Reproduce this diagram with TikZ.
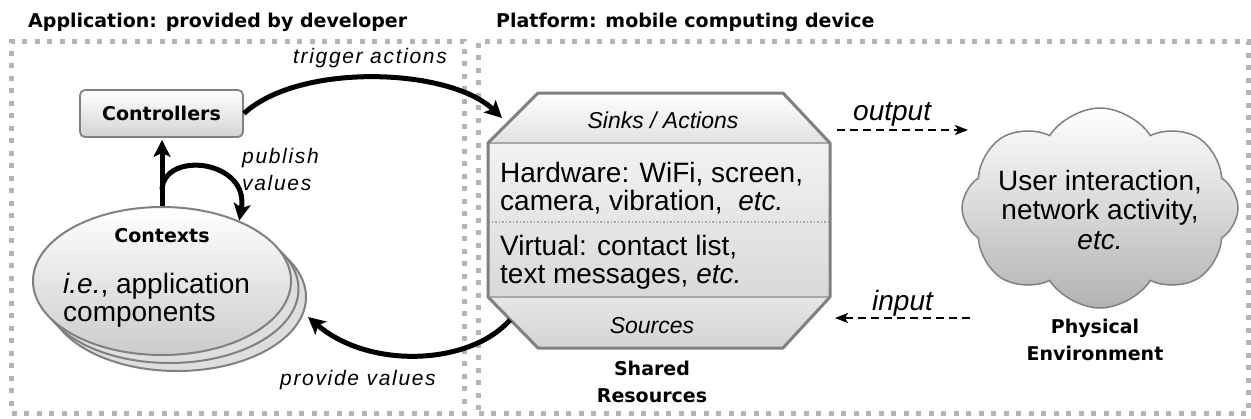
\documentclass[tikz,border=0pt]{standalone}
\usepackage{fontspec}
\setmainfont{Liberation Sans}
\newfontfamily\djv{DejaVu Sans}
\newfontfamily\spc[LetterSpace=8]{Liberation Sans}
\usetikzlibrary{arrows.meta,shapes.geometric,shapes.symbols,shadows,calc}
\definecolor{dotgray}{HTML}{B3B3B3}
\definecolor{edgegray}{HTML}{808080}
\definecolor{sepgray}{HTML}{A8A8A8}
\begin{document}
\begin{tikzpicture}[x=1pt,y=-1pt,
  frame/.style={draw=dotgray, line width=5pt, dash pattern=on 5pt off 7.5pt, inner sep=0pt},
  titletxt/.style={inner sep=0pt, font=\djv\bfseries\fontsize{19}{22}\selectfont},
  boldtxt/.style={inner sep=0pt, align=center, font=\djv\bfseries\fontsize{19}{27}\selectfont},
  bodytxt/.style={inner sep=0pt, font=\fontsize{28}{28}\selectfont},
  ittxt/.style={inner sep=0pt, font=\itshape\fontsize{23}{27}\selectfont},
  flowtxt/.style={inner sep=0pt, font=\spc\itshape\fontsize{21}{27}\selectfont},
  ctrlbox/.style={draw=edgegray, line width=1.8pt, rounded corners=5pt, top color=white, bottom color=black!17,
     minimum width=163pt, minimum height=47pt, inner sep=0pt, font=\djv\bfseries\fontsize{19}{22}\selectfont},
  thickarrow/.style={line width=5pt, -{Stealth[length=17pt, width=17pt, inset=4pt]}},
  dasharrow/.style={line width=1.8pt, dash pattern=on 8pt off 5pt, -{Stealth[length=13pt, width=10pt, inset=3pt]}}
]
\useasboundingbox (0,0) rectangle (1251,418);

% frames and titles
\node[frame, minimum width=453pt, minimum height=372pt] (appbox) at (238,227) {};
\node[frame, minimum width=769.5pt, minimum height=372pt] (platbox) at (863.25,227) {};
\node[titletxt, anchor=base west] (apptitle) at (28,27) {Application: provided by developer};
\node[titletxt, anchor=base west] (plattitle) at (496,27) {Platform: mobile computing device};

% controllers
\node[ctrlbox] (ctrl) at (161.5,113.5) {Controllers};

% contexts
\node[ellipse, draw=edgegray, line width=2pt, top color=white, bottom color=black!20,
      minimum width=258pt, minimum height=148pt, inner sep=0pt,
      double copy shadow={shadow xshift=7.5pt, shadow yshift=-8pt, draw=edgegray, line width=2pt, fill=black!13}]
      (ctx) at (162,281) {};
\node[boldtxt, anchor=base] (ctxtitle) at (162,242) {Contexts};
\node[bodytxt, anchor=base west, align=left] (ctxbody) at (63,321) {\textit{i.e.}, application\\components};

% shared resources octagon
\coordinate (o1) at (538,93);
\coordinate (o2) at (783,93);
\coordinate (o3) at (830,143);
\coordinate (o4) at (830,297);
\coordinate (o5) at (783,348);
\coordinate (o6) at (538,348);
\coordinate (o7) at (488,297);
\coordinate (o8) at (488,143);
\shade[top color=white, bottom color=black!12] (o8) -- (o1) -- (o2) -- (o3) -- cycle;
\shade[top color=black!5, bottom color=black!15] (o8) -- (o3) -- (o4) -- (o7) -- cycle;
\shade[top color=black!10, bottom color=black!17] (o7) -- (o4) -- (o5) -- (o6) -- cycle;
\draw[sepgray, line width=2pt] (o8) -- (o3) (o7) -- (o4);
\draw[sepgray, line width=1.5pt, dotted] (488,222) -- (830,222);
\draw[edgegray, line width=3pt, line join=round] (o1) -- (o2) -- (o3) -- (o4) -- (o5) -- (o6) -- (o7) -- (o8) -- cycle;
\node[ittxt, anchor=base] (sinks) at (663,128) {Sinks / Actions};
\node[bodytxt, anchor=base west, align=left] (hw) at (500,210) {Hardware: WiFi, screen,\\camera, vibration,\ \ \textit{etc.}};
\node[bodytxt, anchor=base west, align=left] (virt) at (500,283) {Virtual: contact list,\\text messages, \textit{etc.}};
\node[ittxt, anchor=base] (sources) at (652,333) {Sources};
\node[boldtxt, anchor=base] (shared) at (652,402) {Shared\\Resources};

% environment cloud
\node[cloud, cloud puffs=8, cloud puff arc=115, aspect=1.4, draw=edgegray, line width=1.5pt,
      top color=white, bottom color=black!30, minimum width=276pt, minimum height=200pt, inner sep=0pt]
      (env) at (1100,208) {};
\node[bodytxt, anchor=base, align=center, font=\fontsize{28}{29.5}\selectfont] (envtxt) at (1100,249)
      {User interaction,\\network activity,\\\textit{etc.}};
\node[boldtxt, anchor=base] (envlbl) at (1095,360) {Physical\\Environment};

% connectors
\draw[thickarrow] (ctx.north) -- ([yshift=-2pt]ctx.north |- ctrl.south);
\coordinate (pubS) at ($(ctx.north)!0.24!(ctx.north |- ctrl.south)$);
\draw[thickarrow] (pubS) .. controls (164,150) and (250,160) .. (ctx.38);
\coordinate (trigE) at (502,118);
\draw[thickarrow] (ctrl.east) .. controls (300,62) and (450,68) .. (trigE);
\coordinate (pvS) at (510,320);
\coordinate (pvE) at (308,317);
\draw[thickarrow] (pvS) .. controls (470,365) and (370,370) .. (pvE);
\coordinate (outS) at (837,130);
\coordinate (outE) at (968,130);
\draw[dasharrow] (outS) -- (outE);
\coordinate (inS) at (970,318);
\coordinate (inE) at (835,318);
\draw[dasharrow] (inS) -- (inE);

% connector labels
\node[flowtxt, anchor=base] (trigl) at (370,63) {trigger actions};
\node[flowtxt, anchor=base west, align=left] (publ) at (242,190) {publish\\values};
\node[flowtxt, anchor=base west] (provl) at (280,385) {provide values};
\node[bodytxt, anchor=base west, font=\itshape\fontsize{28}{28}\selectfont] (outl) at (853,120) {output};
\node[bodytxt, anchor=base west, font=\itshape\fontsize{28}{28}\selectfont] (inl) at (872,310) {input};
\end{tikzpicture}
\end{document}
